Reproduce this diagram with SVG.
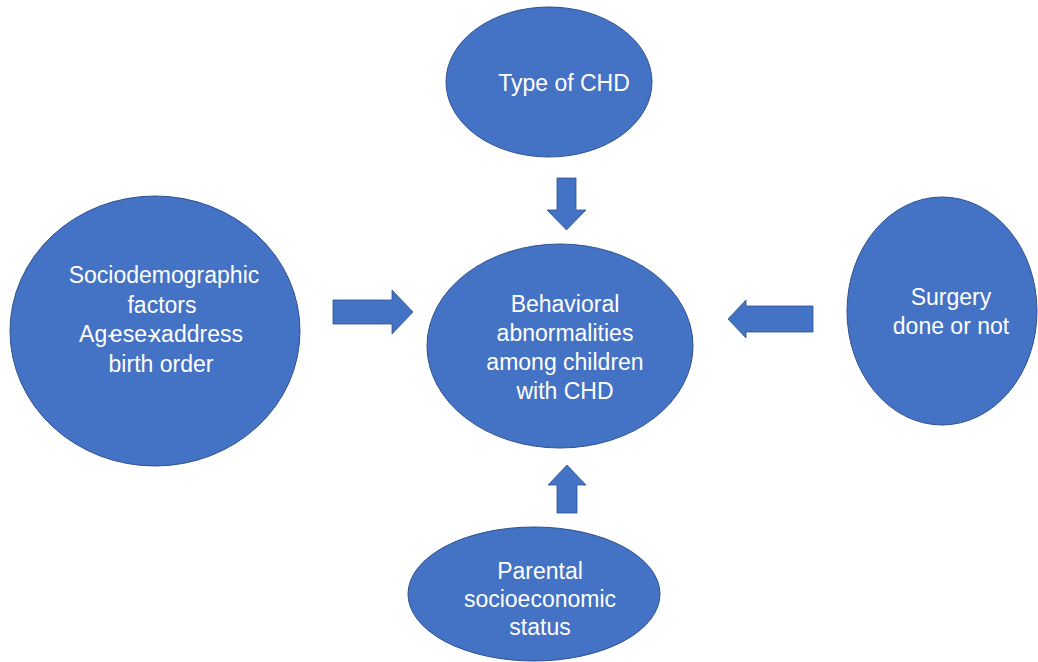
<svg xmlns="http://www.w3.org/2000/svg" width="1038" height="662" viewBox="0 0 1038 662">
<style>
.node{fill:#4472C4;stroke:#2F528F;stroke-width:1}
.arrow{fill:#4472C4;stroke:#2F528F;stroke-width:0.8}
.t{font-family:"Liberation Sans",Arial,sans-serif;font-size:23px;fill:#FFFFFF;text-anchor:middle}
</style>
<rect width="1038" height="662" fill="#FFFFFF"/>
<g id="connectors">
<polygon class="arrow" points="557,178 576,178 576,210 586,210 566.5,230 547,210 557,210"/>
<polygon class="arrow" points="333,300 392,300 392,290 413,312 392,334 392,324 333,324"/>
<polygon class="arrow" points="813,306 746,306 746,300 728,319 746,338 746,332 813,332"/>
<polygon class="arrow" points="557,513 577,513 577,485 586,485 567,465 548,485 557,485"/>
</g>
<g id="type-chd">
<ellipse class="node" cx="549" cy="82" rx="103" ry="75"/>
<text class="t" x="564" y="91">Type of CHD</text>
</g>
<g id="sociodemographic">
<ellipse class="node" cx="155" cy="331" rx="145" ry="135"/>
<text class="t"><tspan x="164" y="283">Sociodemographic</tspan><tspan x="162" y="313">factors</tspan><tspan x="161" y="342">Ag-<tspan dx="-5">e</tspan>se-<tspan dx="-5">x</tspan>address</tspan><tspan x="161" y="372">birth order</tspan></text>
</g>
<g id="behavioral">
<ellipse class="node" cx="560" cy="346" rx="133" ry="102"/>
<text class="t"><tspan x="565" y="312">Behavioral</tspan><tspan x="565" y="341">abnormalities</tspan><tspan x="565" y="370">among children</tspan><tspan x="565" y="399">with CHD</tspan></text>
</g>
<g id="surgery">
<ellipse class="node" cx="942" cy="311" rx="95" ry="114"/>
<text class="t"><tspan x="951" y="305">Surgery</tspan><tspan x="951" y="334">done or not</tspan></text>
</g>
<g id="parental">
<ellipse class="node" cx="534" cy="594" rx="126" ry="67"/>
<text class="t"><tspan x="540" y="579">Parental</tspan><tspan x="540" y="607">socioeconomic</tspan><tspan x="540" y="635">status</tspan></text>
</g>
</svg>
